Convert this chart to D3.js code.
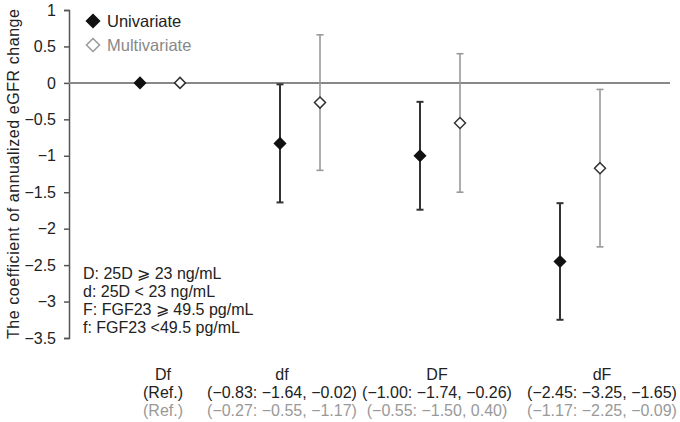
<!DOCTYPE html>
<html>
<head>
<meta charset="utf-8">
<script src="https://cdn.jsdelivr.net/npm/d3@7"></script>
<style>
  body { margin: 0; background: #fff; }
  svg { font-family: "Liberation Sans", Arial, sans-serif; }
</style>
</head>
<body>
<script>
const w = 680;
const h = 422;

// data
const categories = ['Df', 'df', 'DF', 'dF'];
const uniEst = [0, -0.83, -1.00, -2.45];
const uniLow = [null, -1.64, -1.74, -3.25];
const uniHigh = [null, -0.02, -0.26, -1.65];
const multiEst = [0, -0.27, -0.55, -1.17];
const multiLow = [null, -1.20, -1.50, -2.25];
const multiHigh = [null, 0.66, 0.40, -0.09];
const uniLabels = ['(Ref.)', '(\u22120.83: \u22121.64, \u22120.02)', '(\u22121.00: \u22121.74, \u22120.26)', '(\u22122.45: \u22123.25, \u22121.65)'];
const multiLabels = ['(Ref.)', '(\u22120.27: \u22120.55, \u22121.17)', '(\u22120.55: \u22121.50, 0.40)', '(\u22121.17: \u22122.25, \u22120.09)'];
const yTicks = [1, 0.5, 0, -0.5, -1, -1.5, -2, -2.5, -3, -3.5];
const notes = ['D: 25D \u2A7E 23 ng/mL', 'd: 25D < 23 ng/mL', 'F: FGF23 \u2A7E 49.5 pg/mL', 'f: FGF23 <49.5 pg/mL'];
const seriesNames = ['Univariate', 'Multivariate'];

// layout
const axisX = 69;
const labelX = [163, 282, 437, 602];
const offset = 20;
const fs = '16px';

const svg = d3.select('body').append('svg')
  .attr('width', w)
  .attr('height', h);

const yScale = d3.scaleLinear().domain([-3.5, 1]).range([338, 10]);
const xScale = d3.scaleBand().domain(categories).range([90, 650]);
const cx = (c) => xScale(c) + xScale.bandwidth() / 2;

// y axis
const yAxis = d3.axisLeft(yScale)
  .tickValues(yTicks)
  .tickSize(5)
  .tickPadding(8)
  .tickFormat((d) => d3.format('')(d).replace('-', '\u2212'));

const gy = svg.append('g')
  .attr('transform', `translate(${axisX}, 0)`)
  .call(yAxis);
gy.select('.domain').attr('stroke', '#555').attr('stroke-width', 1.5);
gy.selectAll('.tick line').attr('stroke', '#555').attr('stroke-width', 1.5);
gy.selectAll('.tick text').attr('fill', '#222').style('font-size', fs).style('font-family', '"Liberation Sans", Arial, sans-serif');

svg.append('text')
  .attr('transform', `translate(19, ${(yScale(1) + yScale(-3.5)) / 2}) rotate(-90)`)
  .attr('text-anchor', 'middle')
  .attr('fill', '#222')
  .style('font-size', '16px')
  .attr('textLength', 330)
  .attr('lengthAdjust', 'spacing')
  .text('The coefficient of annualized eGFR change');

// zero line
svg.append('line')
  .attr('x1', axisX).attr('x2', 670)
  .attr('y1', yScale(0)).attr('y2', yScale(0))
  .attr('stroke', '#888')
  .attr('stroke-width', 2);

const diamond = (x, y, r) => `M${x},${y - r}L${x + r},${y}L${x},${y + r}L${x - r},${y}Z`;

function drawSeries(est, low, high, dx, color, fill, lw) {
  const g = svg.append('g');
  categories.forEach((c, i) => {
    const x = cx(c) + dx;
    if (low[i] !== null) {
      g.append('line')
        .attr('x1', x).attr('x2', x)
        .attr('y1', yScale(high[i])).attr('y2', yScale(low[i]))
        .attr('stroke', color).attr('stroke-width', lw);
      [low[i], high[i]].forEach((v) => {
        g.append('line')
          .attr('x1', x - 3.5).attr('x2', x + 3.5)
          .attr('y1', yScale(v)).attr('y2', yScale(v))
          .attr('stroke', color).attr('stroke-width', lw);
      });
    }
    g.append('path')
      .attr('d', diamond(x, yScale(est[i]), 5.5))
      .attr('fill', fill)
      .attr('stroke', fill === '#fff' ? '#333' : '#111')
      .attr('stroke-width', 1.5);
  });
}

drawSeries(uniEst, uniLow, uniHigh, -offset, '#333', '#111', 2);
drawSeries(multiEst, multiLow, multiHigh, offset, '#999', '#fff', 1.6);

// legend
const legend = svg.append('g');
seriesNames.forEach((name, i) => {
  const y = 21 + i * 24;
  legend.append('path')
    .attr('d', diamond(93, y, 6.5))
    .attr('fill', i === 0 ? '#111' : '#fff')
    .attr('stroke', i === 0 ? '#111' : '#999')
    .attr('stroke-width', 1.5);
  legend.append('text')
    .attr('x', 107).attr('y', y)
    .attr('dy', '0.35em')
    .attr('fill', i === 0 ? '#222' : '#888')
    .style('font-size', '16.5px')
    .text(name);
});

// notes
svg.append('g').selectAll('text')
  .data(notes)
  .enter()
  .append('text')
  .attr('x', 83)
  .attr('y', (d, i) => 273 + i * 18)
  .attr('dy', '0.35em')
  .attr('fill', '#222')
  .style('font-size', '16px')
  .text((d) => d);

// category labels
const labels = svg.append('g').attr('text-anchor', 'middle').style('font-size', fs);
categories.forEach((c, i) => {
  labels.append('text').attr('x', labelX[i]).attr('y', 374).attr('dy', '0.35em').attr('fill', '#222').text(c);
  labels.append('text').attr('x', labelX[i]).attr('y', 392).attr('dy', '0.35em').attr('fill', '#222').text(uniLabels[i]);
  labels.append('text').attr('x', labelX[i]).attr('y', 410).attr('dy', '0.35em').attr('fill', '#999').text(multiLabels[i]);
});
</script>
</body>
</html>
